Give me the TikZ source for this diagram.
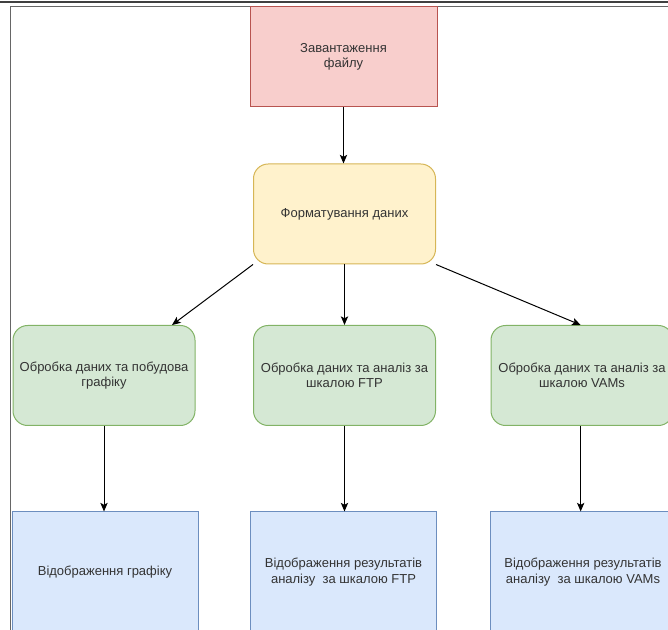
\documentclass[tikz,border=0pt]{standalone}
\usepackage{fontspec}
\setmainfont{Liberation Sans}
\usetikzlibrary{arrows.meta}

\definecolor{loadfill}{HTML}{F8CECC}
\definecolor{loaddraw}{HTML}{B85450}
\definecolor{fmtfill}{HTML}{FFF2CC}
\definecolor{fmtdraw}{HTML}{D6B656}
\definecolor{procfill}{HTML}{D5E8D4}
\definecolor{procdraw}{HTML}{82B366}
\definecolor{showfill}{HTML}{DAE8FC}
\definecolor{showdraw}{HTML}{6C8EBF}
\definecolor{txtgray}{HTML}{333333}

\begin{document}
\begin{tikzpicture}[x=0.75pt,y=0.75pt,yscale=-1,
  box/.style={draw, line width=0.75pt, align=center, text=txtgray,
    inner sep=2pt, font=\fontsize{9.75}{11.5}\selectfont},
  loadbox/.style={box, fill=loadfill, draw=loaddraw,
    minimum width=140.25pt, minimum height=75pt},
  fmtbox/.style={box, fill=fmtfill, draw=fmtdraw, rounded corners=11pt,
    minimum width=136.5pt, minimum height=75pt},
  procbox/.style={box, fill=procfill, draw=procdraw, rounded corners=11pt,
    minimum width=136.5pt, minimum height=75pt},
  showbox/.style={box, fill=showfill, draw=showdraw,
    minimum width=139.5pt, minimum height=90pt},
  flow/.style={draw=black, line width=0.75pt,
    -{Stealth[length=6.5pt,width=5.5pt,inset=1.5pt]}}]
\useasboundingbox (0,0) rectangle (668,630);
\clip (0,0) rectangle (668,630);

%Frame lines
\draw [line width=1.5pt, color=black!75] (0,2) -- (668,2) ;
\draw [line width=0.75pt, color=black!60] (10.5,630) -- (10.5,7) -- (668,7) ;

%Shape: Rectangle
\node [loadbox] (load) at (343.5,57) {Завантаження\\файлу};
%Shape: Rounded Rectangle
\node [fmtbox] (fmt) at (344.5,214) {Форматування даних};

%Shape: Rounded Rectangle
\node [procbox] (procplot) at (104,375.5) {Обробка даних та побудова\\графіку};
\node [procbox] (procftp) at (344.5,375.5) {Обробка даних та аналіз за\\шкалою FTP};
\node [procbox] (procvam) at (582,375.5) {Обробка даних та аналіз за\\шкалою VAMs};

%Shape: Rectangle
\node [showbox] (showplot) at (105,572) {Відображення графіку};
\node [showbox] (showftp) at (343.5,572) {Відображення результатів\\аналізу\ \ за шкалою FTP};
\node [showbox] (showvam) at (583,572) {Відображення результатів\\аналізу\ \ за шкалою VAMs};

%Straight Lines
\draw [flow] (load.south) -- (load.south |- fmt.north) ;
\draw [flow] (fmt.south west) -- ([xshift=51pt]procplot.north) ;
\draw [flow] (fmt.south) -- (fmt.south |- procftp.north) ;
\draw [flow] (fmt.south east) -- ([xshift=-1pt]procvam.north) ;
\draw [flow] (procplot.south) -- (procplot.south |- showplot.north) ;
\draw [flow] (procftp.south) -- (procftp.south |- showftp.north) ;
\draw [flow] ([xshift=-1pt]procvam.south) -- ([xshift=-1pt]procvam.south |- showvam.north) ;

\end{tikzpicture}
\end{document}
